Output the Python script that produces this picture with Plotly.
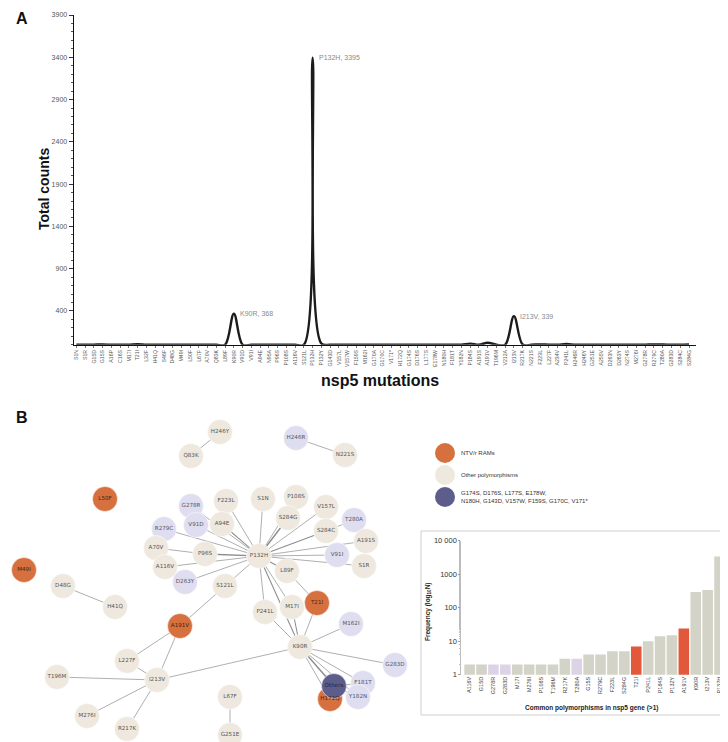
import plotly.graph_objects as go

W, H = 728, 742

# ---------------- Panel A data ----------------
mutations = ["S1N","S1R","G15D","G15S","A16P","C16S","M17I","T21I","L32F","H41Q","S46F","D48G",
             "M49I","L50F","L67F","A70V","Q83K","L89F","K90R","V91D","V91I","A94E","N95A","P96S",
             "P108S","A116V","S121L","P132H","P132Y","G143D","V157L","V157W","F159S","M162I",
             "G170A","G170C","V171*","H172Q","G174S","D176S","L177S","E178W","N180H","F181T",
             "Y182N","P184S","A191S","A191V","T196M","V212A","I213V","R217K","N221S","F223L",
             "L227F","A234V","P241L","H246R","H246Y","G251E","A255V","D263N","D263Y","N274S",
             "M276I","G278R","R279C","T280A","G283D","S284C","S284G"]
counts = [1,1,2,4,1,1,2,7,1,1,1,1,
          1,1,1,1,1,1,368,1,1,1,1,1,
          2,2,1,3395,15,1,1,1,1,1,
          1,1,1,1,1,1,1,1,1,1,
          1,14,1,24,2,1,339,3,1,5,
          1,1,10,1,1,1,1,1,1,1,
          2,2,4,3,2,1,5]
peak_labels = ["K90R", "P132H", "I213V"]
y_ticks_a = [400, 900, 1400, 1900, 2400, 2900, 3400, 3900]

# ---------------- Panel B network data ----------------
node_names = ["H246Y","Q83K","H246R","N221S","L50F","M49I","D48G","H41Q","G278R","F223L","S1N",
              "P108S","V157L","V91D","A94E","S284G","T280A","S284C","R279C","A70V","P96S","A191S",
              "V91I","S1R","P132H","A116V","D263Y","S121L","L89F","T21I","M17I","P241L","M162I",
              "K90R","A191V","L227F","I213V","T196M","M276I","R217K","L67F","G251E","G283D",
              "F181T","Y182N","H172Q","Others"]
node_x = [212,183,288,337,97,16,55,107,183,218,255,
          288,318,188,214,280,346,318,156,148,197,358,
          329,356,251,157,177,217,279,309,284,257,343,
          292,172,119,149,49,79,119,222,222,387,
          355,350,322,326]
node_y = [424,448,430,447,491,562,578,599,498,493,491,
          489,499,517,516,510,512,523,521,540,546,533,
          547,558,548,559,574,578,563,595,599,604,616,
          639,618,653,672,669,708,721,689,727,657,
          675,689,691,678]
node_group = ["other","other","lav","other","ram","ram","other","other","lav","other","other",
              "other","other","lav","other","other","lav","other","lav","other","other","other",
              "lav","other","other","other","lav","other","other","ram","other","other","lav",
              "other","ram","other","other","other","other","other","other","other","lav",
              "lav","lav","ram","others"]
edges = [("H246Y","Q83K",1),("H246R","N221S",1),("D48G","H41Q",1),("L67F","G251E",1),
         ("P132H","F223L",1),("P132H","S1N",1),("P132H","P108S",1),("P132H","S284G",3),
         ("P132H","V157L",1),("P132H","S284C",2),("P132H","A191S",1),("P132H","V91I",1),
         ("P132H","S1R",1),("P132H","L89F",2),("P132H","M17I",1),("P132H","P241L",1),
         ("P132H","K90R",2),("P132H","S121L",1),("P132H","D263Y",1),("P132H","A116V",1),
         ("P132H","P96S",3),("P132H","R279C",1),("P132H","V91D",1),("P132H","A94E",2),
         ("P132H","G278R",1),("A70V","P96S",1),("S284C","T280A",1),("L89F","T21I",1),
         ("K90R","T21I",1),("K90R","M17I",2),("K90R","P241L",1),("K90R","M162I",1),
         ("K90R","G283D",1),("K90R","F181T",1),("K90R","Others",3),("K90R","H172Q",1),
         ("K90R","Y182N",1),("K90R","I213V",1),("Others","F181T",1),("Others","Y182N",1),
         ("S121L","A191V",1),("A191V","L227F",1),("A191V","I213V",1),("L227F","I213V",1),
         ("I213V","T196M",1),("I213V","M276I",1),("I213V","R217K",1)]

legend_labels = ["NTV/r RAMs", "Other polymorphisms",
                 "G174S, D176S, L177S, E178W,<br>N180H, G143D, V157W, F159S, G170C, V171*"]
legend_groups = ["ram", "other", "others"]

# ---------------- Inset bar data ----------------
bar_labels = ["A116V","G15D","G278R","G283D","M17I","M276I","P108S","T196M","R217K","T280A",
              "G15S","R279C","F223L","S284G","T21I","P241L","P184S","P132Y","A191V","K90R",
              "I213V","P132H"]
bar_values = [2,2,2,2,2,2,2,2,3,3,4,4,5,5,7,10,14,15,24,295,340,3395]
bar_groups = ["other","other","lav","lav","other","other","other","other","other","lav",
              "other","other","other","other","ram","other","other","other","ram","other",
              "other","other"]
bar_ticks = [1, 10, 100, 1000, 10000]
bar_tick_text = ["1", "10", "100", "1000", "10 000"]

# ---------------- styles ----------------
node_fill = {"other": "#eee8df", "lav": "#dedef0", "ram": "#d6703f", "others": "#5d5d8c"}
node_txt = {"other": "#555555", "lav": "#555566", "ram": "#4a2410", "others": "#22223d"}
bar_fill = {"other": "#d3d3c7", "lav": "#ddd3e6", "ram": "#e2583a"}
SANS = "Liberation Sans, Arial, sans-serif"
DJ = "DejaVu Sans, sans-serif"

def dx(p):
    return p / W

def dy(p):
    return 1 - p / H

fig = go.Figure()

# Panel A line
xs = list(range(len(mutations)))
fig.add_trace(go.Scatter(x=xs, y=counts, mode="lines",
                         line=dict(color="#1c1c1c", width=2.4, shape="spline", smoothing=1.0),
                         xaxis="x", yaxis="y", hoverinfo="skip", showlegend=False))

for lab in peak_labels:
    i = mutations.index(lab)
    fig.add_annotation(x=i, y=counts[i], xref="x", yref="y", text=f"{lab}, {counts[i]}",
                       showarrow=False, xanchor="left", yanchor="middle", xshift=4,
                       font=dict(family=SANS, size=7, color="#8a8a8a"))

# Network edges
pos = {n: (x, y) for n, x, y in zip(node_names, node_x, node_y)}
for a, b, w in edges:
    fig.add_trace(go.Scatter(x=[pos[a][0], pos[b][0]], y=[pos[a][1], pos[b][1]], mode="lines",
                             line=dict(color="#8c8c8c", width=0.7 + 0.35 * (w - 1)),
                             xaxis="x2", yaxis="y2", hoverinfo="skip", showlegend=False))

# Network nodes
fig.add_trace(go.Scatter(x=node_x, y=node_y, mode="markers+text", text=node_names,
                         textposition="middle center",
                         textfont=dict(family=DJ, size=5.6, color=[node_txt[g] for g in node_group]),
                         marker=dict(size=25, color=[node_fill[g] for g in node_group],
                                     line=dict(color="rgba(255,255,255,0.9)", width=0.6)),
                         cliponaxis=False, xaxis="x2", yaxis="y2", hoverinfo="skip", showlegend=False))

# Legend for network
leg_y = [445, 467, 489]
fig.add_trace(go.Scatter(x=[437] * 3, y=leg_y, mode="markers",
                         marker=dict(size=20, color=[node_fill[g] for g in legend_groups],
                                     line=dict(width=0)),
                         xaxis="x2", yaxis="y2", hoverinfo="skip", showlegend=False, cliponaxis=False))
for lab, yy in zip(legend_labels, leg_y):
    fig.add_annotation(x=451, y=yy, xref="x2", yref="y2", text=lab, showarrow=False,
                       xanchor="left", yanchor="middle", align="left",
                       font=dict(family=SANS, size=6, color="#333333"))

# Inset bars
fig.add_trace(go.Bar(x=bar_labels, y=bar_values, marker=dict(color=[bar_fill[g] for g in bar_groups],
                                                              line=dict(width=0)),
                     xaxis="x3", yaxis="y3", hoverinfo="skip", showlegend=False))

# inset frame
fig.add_shape(type="rect", xref="paper", yref="paper", x0=dx(413), x1=dx(721), y0=dy(707), y1=dy(523),
              line=dict(color="#cfcfcf", width=1), fillcolor="rgba(0,0,0,0)", layer="below")

fig.update_layout(
    width=W, height=H, margin=dict(l=0, r=0, t=0, b=0),
    paper_bgcolor="white", plot_bgcolor="rgba(0,0,0,0)",
    showlegend=False, bargap=0.11,
    font=dict(family=SANS),
    xaxis=dict(domain=[dx(65.7), dx(688)], range=[-0.3, 70.8], tickmode="array", tickvals=xs,
               ticktext=mutations, tickangle=-90, tickfont=dict(family=SANS, size=5.2, color="#555"),
               showline=True, linecolor="#111", linewidth=1.2, ticks="outside", ticklen=2,
               tickcolor="#777", tickwidth=0.5, showgrid=False, zeroline=False, anchor="y",
               automargin=False, fixedrange=True),
    yaxis=dict(domain=[dy(336.8), dy(7)], range=[0, 3900], tickmode="array", tickvals=y_ticks_a,
               tickfont=dict(family=SANS, size=7, color="#555"), showline=True, linecolor="#111",
               linewidth=1.2, ticks="outside", ticklen=4, tickcolor="#333",
               minor=dict(tickmode="linear", tick0=0, dtick=100, ticks="outside", ticklen=2,
                          tickcolor="#555"),
               showgrid=False, zeroline=False, anchor="x", automargin=False),
    xaxis2=dict(domain=[0, 1], range=[0, W], visible=False, anchor="y2", fixedrange=True),
    yaxis2=dict(domain=[0, dy(400)], range=[H, 400], visible=False, anchor="x2", fixedrange=True),
    xaxis3=dict(domain=[dx(453.3), dx(717.5)], range=[-0.7, 21.5], anchor="y3", type="category",
                tickangle=-90, tickfont=dict(family=SANS, size=5.5, color="#444"), showline=False,
                ticks="", showgrid=False, zeroline=False, automargin=False),
    yaxis3=dict(domain=[dy(666.7), dy(532.7)], type="log", range=[0, 4], anchor="x3",
                tickmode="array", tickvals=bar_ticks, ticktext=bar_tick_text,
                tickfont=dict(family=SANS, size=7.5, color="#333"), showline=True,
                linecolor="#bdbdbd", linewidth=0.8, ticks="outside", ticklen=2, tickcolor="#999",
                minor=dict(ticks="outside", ticklen=1.5, tickcolor="#bbb"),
                showgrid=False, zeroline=False, automargin=False),
)

# Titles and panel letters
fig.add_annotation(x=dx(372), y=dy(372), xref="paper", yref="paper", text="<b>nsp5 mutations</b>",
                   showarrow=False, xanchor="center", yanchor="middle",
                   font=dict(family=SANS, size=16, color="#111"))
fig.add_annotation(x=dx(36), y=dy(181), xref="paper", yref="paper", text="<b>Total counts</b>",
                   showarrow=False, textangle=-90, xanchor="center", yanchor="middle",
                   font=dict(family=SANS, size=14, color="#111"))
fig.add_annotation(x=dx(14), y=dy(11), xref="paper", yref="paper", text="<b>A</b>",
                   showarrow=False, xanchor="center", yanchor="middle",
                   font=dict(family=SANS, size=16, color="#111"))
fig.add_annotation(x=dx(14), y=dy(409), xref="paper", yref="paper", text="<b>B</b>",
                   showarrow=False, xanchor="center", yanchor="middle",
                   font=dict(family=SANS, size=16, color="#111"))
fig.add_annotation(x=dx(583), y=dy(700), xref="paper", yref="paper",
                   text="<b>Common polymorphisms in nsp5 gene (>1)</b>", showarrow=False,
                   xanchor="center", yanchor="middle", font=dict(family=SANS, size=6.5, color="#222"))
fig.add_annotation(x=dx(420), y=dy(603), xref="paper", yref="paper",
                   text="<b>Frequency (log<sub>10</sub>N)</b>", showarrow=False, textangle=-90,
                   xanchor="center", yanchor="middle", font=dict(family=SANS, size=6.5, color="#222"))

fig.write_html("out.html")
